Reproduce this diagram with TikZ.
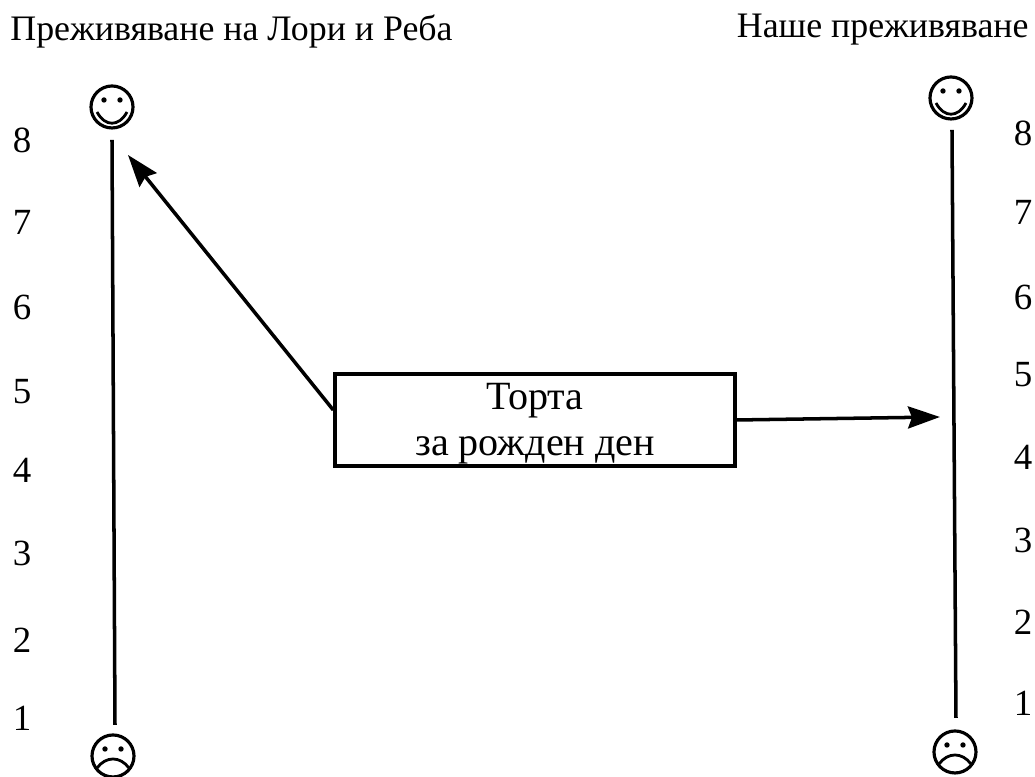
\documentclass[tikz,border=0pt]{standalone}
\usepackage{fontspec}
\setmainfont{Liberation Serif}
\usetikzlibrary{arrows.meta}
\tikzset{
  scaletext/.style={font=\fontsize{10.5}{12.5}\selectfont},
  titletext/.style={font=\fontsize{10.2}{12}\selectfont},
  facering/.style={circle,draw,line width=0.9pt,inner sep=0pt,minimum size=0.42cm},
  scaleline/.style={line width=1pt},
  pointer/.style={line width=1pt,-{Stealth[length=0.32cm,width=0.22cm,inset=0.04cm]}}
}
\begin{document}
\begin{tikzpicture}[scale=1.0]
\useasboundingbox (0,0) rectangle (10.35,7.77);

\node[titletext,anchor=west] (titleL) at (-0.02,7.45) {Преживяване на Лори и Реба};
\node[titletext,anchor=east] (titleR) at (10.41,7.47) {Наше преживяване};

% left scale
\foreach \n/\y in {8/1.40,7/2.22,6/3.07,5/3.92,4/4.70,3/5.53,2/6.40,1/7.18} {
\node[scaletext] (numL\n) at (0.22,7.77-\y) {\n};
}
% right scale
\foreach \n/\y in {8/1.33,7/2.12,6/2.97,5/3.75,4/4.57,3/5.40,2/6.22,1/7.03} {
\node[scaletext] (numR\n) at (10.23,7.77-\y) {\n};
}

\node[facering] (smileL) at (1.12,6.70) {};
\node[facering] (frownL) at (1.13,0.21) {};
\node[facering] (smileR) at (9.51,6.79) {};
\node[facering] (frownR) at (9.55,0.25) {};

% faces
\foreach \f in {smileL,smileR} {
\fill ([shift={(-0.08,0.07)}]\f.center) circle (0.027);
\fill ([shift={(0.08,0.07)}]\f.center) circle (0.027);
\draw[line width=0.8pt] ([shift={(-0.15,-0.05)}]\f.center) .. controls ([shift={(-0.07,-0.2)}]\f.center) and ([shift={(0.07,-0.2)}]\f.center) .. ([shift={(0.15,-0.05)}]\f.center);
}
\foreach \f in {frownL,frownR} {
\fill ([shift={(-0.08,0.07)}]\f.center) circle (0.027);
\fill ([shift={(0.08,0.07)}]\f.center) circle (0.027);
\draw[line width=0.8pt] ([shift={(-0.16,-0.12)}]\f.center) .. controls ([shift={(-0.07,0.0)}]\f.center) and ([shift={(0.07,0.0)}]\f.center) .. ([shift={(0.16,-0.12)}]\f.center);
}

\coordinate (topL) at (1.12,6.37);
\coordinate (botL) at (1.15,0.52);
\coordinate (topR) at (9.52,6.47);
\coordinate (botR) at (9.56,0.59);
\draw[scaleline] (topL) -- (botL);
\draw[scaleline] (topR) -- (botR);

\node[draw,line width=1pt,minimum width=4.0cm,minimum height=0.92cm,inner sep=0pt] (cake) at (5.35,3.57) {};
\node[font=\fontsize{11.4}{13}\selectfont,align=center,inner sep=0pt] (cakelabel) at (5.35,3.53) {Торта\\за рожден ден};

\coordinate (tipL) at (1.28,6.22);
\coordinate (tipR) at (9.40,3.60);
\draw[pointer] (cake.west) ++(0,0.10) -- (tipL);
\draw[pointer] (cake.east) -- (tipR);
\end{tikzpicture}
\end{document}
